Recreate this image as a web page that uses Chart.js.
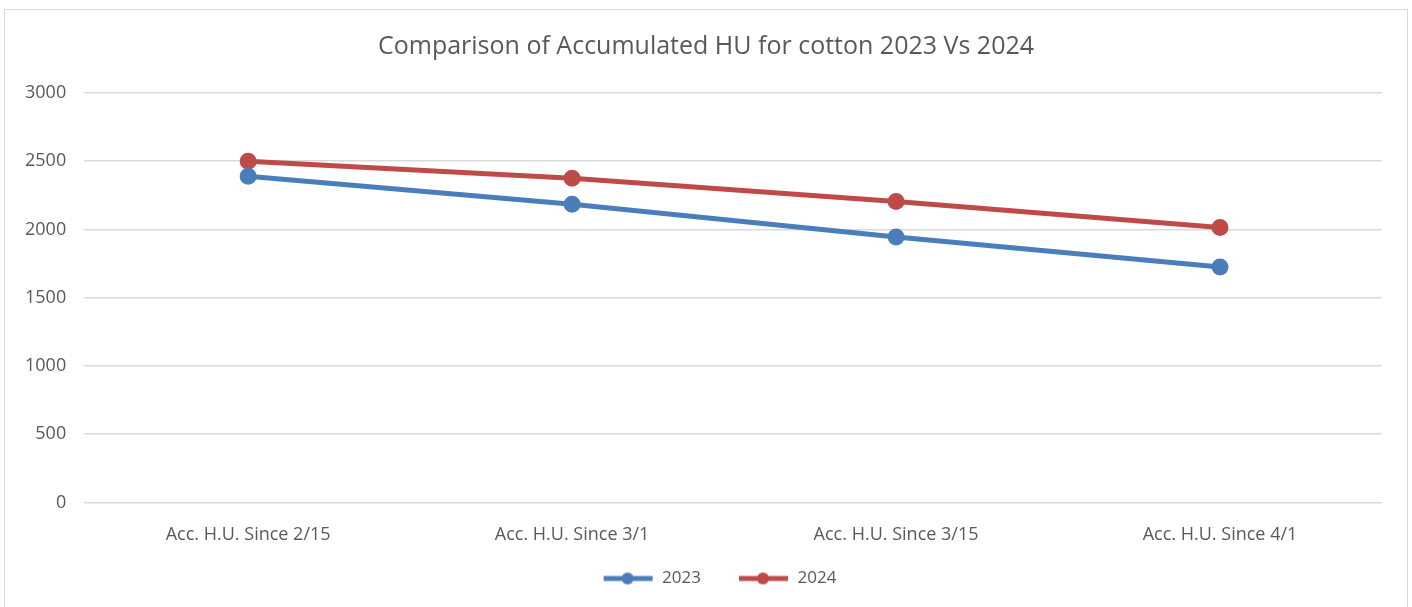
<!DOCTYPE html>
<html>
<head>
<meta charset="utf-8">
<script src="https://cdn.jsdelivr.net/npm/chart.js@4/dist/chart.umd.min.js"></script>
<style>
  body { margin: 0; background: #fff; }
  #wrap { position: relative; width: 1412px; height: 607px; overflow: hidden; }
  #frame { position: absolute; left: 4px; top: 9px; width: 1402px; height: 640px; border: 1px solid #d9d9d9; }
  canvas { position: absolute; left: 0; top: 0; }
</style>
</head>
<body>
<div id="wrap">
  <div id="frame"></div>
  <canvas id="hu-chart" width="1412" height="607"></canvas>
</div>
<script>
const categories = ['Acc. H.U. Since 2/15', 'Acc. H.U. Since 3/1', 'Acc. H.U. Since 3/15', 'Acc. H.U. Since 4/1'];
const hu2023 = [2390, 2185, 1945, 1725];
const hu2024 = [2500, 2375, 2205, 2015];
const yTicks = [0, 500, 1000, 1500, 2000, 2500, 3000];

const txt = '#595959';
const fontFamily = '"Open Sans", "Noto Sans", sans-serif';
const blue = '#4a7ebb';
const red = '#be4b48';

// legend marker: short line with a dot, blank space on the left to spread the items
function legendMark(color) {
  const c = document.createElement('canvas');
  c.width = 78; c.height = 14;
  const g = c.getContext('2d');
  g.strokeStyle = color;
  g.lineWidth = 5;
  g.beginPath(); g.moveTo(28, 7); g.lineTo(77, 7); g.stroke();
  g.fillStyle = color;
  g.beginPath(); g.arc(52, 7, 6, 0, Math.PI * 2); g.fill();
  return c;
}
const marks = [legendMark(blue), legendMark(red)];

// center title and legend on the whole canvas, not on the padded area
const centerBlocks = {
  id: 'centerBlocks',
  afterLayout(chart) {
    [chart.titleBlock, chart.legend].forEach((b) => {
      if (b) { b.left = 0; b.right = chart.width; b.width = chart.width; }
    });
  }
};

const ctx = document.getElementById('hu-chart');
new Chart(ctx, {
  type: 'line',
  data: {
    labels: categories,
    datasets: [
      {
        label: '2023',
        data: hu2023,
        borderColor: blue,
        backgroundColor: blue,
        borderWidth: 5,
        pointRadius: 6,
        pointHoverRadius: 6,
        tension: 0
      },
      {
        label: '2024',
        data: hu2024,
        borderColor: red,
        backgroundColor: red,
        borderWidth: 5,
        pointRadius: 6,
        pointHoverRadius: 6,
        tension: 0
      }
    ]
  },
  plugins: [centerBlocks],
  options: {
    responsive: false,
    animation: false,
    layout: { padding: { left: 7, right: 30, top: 0, bottom: 10 } },
    plugins: {
      title: {
        display: true,
        text: 'Comparison of Accumulated HU for cotton 2023 Vs 2024',
        color: txt,
        font: { family: fontFamily, size: 25, weight: 'normal' },
        padding: { top: 32, bottom: 31 }
      },
      legend: {
        position: 'bottom',
        labels: {
          color: txt,
          font: { family: fontFamily, size: 17 },
          usePointStyle: true,
          pointStyleWidth: 78,
          boxHeight: 14,
          padding: 10,
          generateLabels: (chart) => chart.data.datasets.map((ds, i) => ({
            text: ds.label,
            fontColor: txt,
            pointStyle: marks[i],
            hidden: false,
            datasetIndex: i
          }))
        }
      },
      tooltip: { enabled: false }
    },
    scales: {
      x: {
        offset: true,
        grid: { display: false },
        border: { display: false },
        ticks: { color: txt, font: { family: fontFamily, size: 18 }, padding: 14, maxRotation: 0 }
      },
      y: {
        min: 0,
        max: 3000,
        afterBuildTicks: (axis) => { axis.ticks = yTicks.map((v) => ({ value: v })); },
        grid: { color: '#d9d9d9', lineWidth: 1.5, drawTicks: true, tickLength: 2, tickColor: '#d9d9d9' },
        border: { display: false },
        ticks: {
          color: txt,
          font: { family: fontFamily, size: 18 },
          padding: 18,
          callback: (v) => String(v)
        }
      }
    }
  }
});
</script>
</body>
</html>
